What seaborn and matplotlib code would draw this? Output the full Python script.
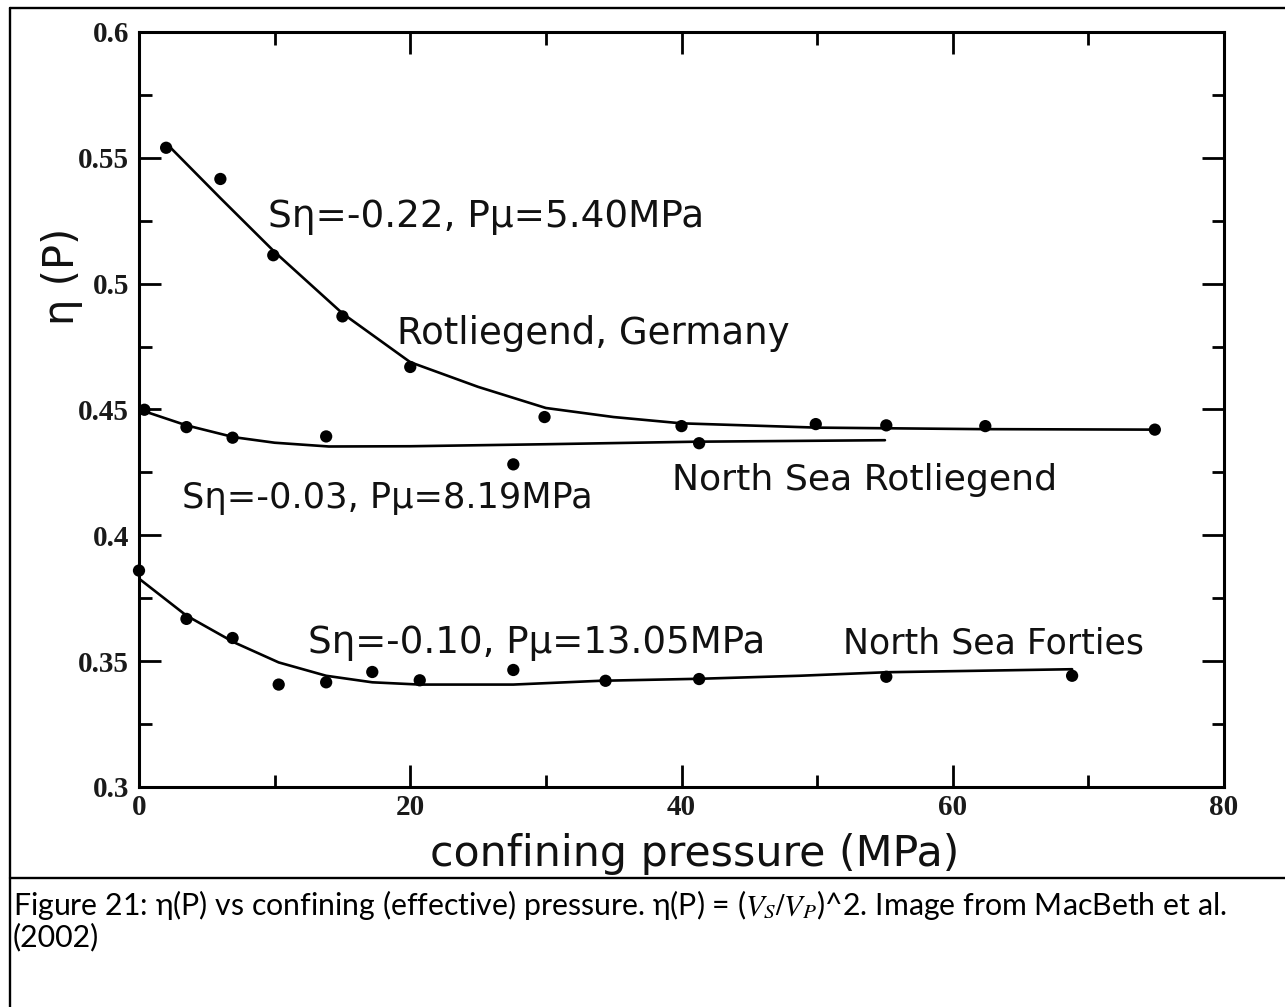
import matplotlib
matplotlib.use("Agg")
import numpy as np
import pandas as pd
import matplotlib.pyplot as plt
import seaborn as sns
from matplotlib.lines import Line2D
from matplotlib.ticker import MultipleLocator, FuncFormatter

# ---------------- data ----------------
germany_p = [2.0, 6.0, 9.9, 15.0, 20.0, 29.9, 40.0, 49.9, 55.1, 62.4, 74.9]
germany_eta = [0.554, 0.5416, 0.5113, 0.487, 0.4669, 0.447, 0.4434, 0.4442, 0.4437, 0.4434, 0.442]
germany_fit_p = [2, 6, 10, 15, 20, 25, 30, 35, 40, 50, 62, 75]
germany_fit_eta = [0.5558, 0.534, 0.5126, 0.4882, 0.4688, 0.459, 0.4506, 0.4470, 0.4445, 0.4428, 0.4422, 0.442]

nsr_p = [0.4, 3.5, 6.9, 13.8, 27.6, 41.3]
nsr_eta = [0.4499, 0.443, 0.4388, 0.4393, 0.4282, 0.4366]
nsr_fit_p = [0, 3.5, 7, 10, 14, 20, 30, 41, 55]
nsr_fit_eta = [0.450, 0.4437, 0.439, 0.4368, 0.4353, 0.4354, 0.4362, 0.4372, 0.4378]

forties_p = [0.0, 3.5, 6.9, 10.3, 13.8, 17.2, 20.7, 27.6, 34.4, 41.3, 55.1, 68.8]
forties_eta = [0.386, 0.3668, 0.3592, 0.3407, 0.3416, 0.3457, 0.3424, 0.3465, 0.3422, 0.3429, 0.3438, 0.3442]
forties_fit_p = [0, 3.5, 7, 10.3, 13.8, 17.2, 20.7, 27.6, 34, 41.3, 48.7, 55.1, 62, 68.8]
forties_fit_eta = [0.3828, 0.3681, 0.3575, 0.3495, 0.3442, 0.3416, 0.3407, 0.3407, 0.3422, 0.343, 0.3442, 0.3456, 0.3462, 0.3468]

series_names = ["Rotliegend, Germany", "North Sea Rotliegend", "North Sea Forties"]
x_ticks = [0, 20, 40, 60, 80]
y_ticks = [0.3, 0.35, 0.4, 0.45, 0.5, 0.55, 0.6]

annot_texts = ["S\u03b7=-0.22, P\u03bc=5.40MPa", "Rotliegend, Germany",
               "S\u03b7=-0.03, P\u03bc=8.19MPa", "North Sea Rotliegend",
               "S\u03b7=-0.10, P\u03bc=13.05MPa", "North Sea Forties"]
x_label = "confining pressure (MPa)"
y_label = "\u03b7 (P)"
caption_1 = "Figure 21: \u03b7(P) vs confining (effective) pressure. \u03b7(P) = ($V_S/V_P$)^2. Image from MacBeth et al."
caption_2 = "(2002)"

# ---------------- tables ----------------
pts = pd.concat([
    pd.DataFrame({"P": germany_p, "eta": germany_eta, "series": series_names[0]}),
    pd.DataFrame({"P": nsr_p, "eta": nsr_eta, "series": series_names[1]}),
    pd.DataFrame({"P": forties_p, "eta": forties_eta, "series": series_names[2]}),
], ignore_index=True)
fits = pd.concat([
    pd.DataFrame({"P": germany_fit_p, "eta": germany_fit_eta, "series": series_names[0]}),
    pd.DataFrame({"P": nsr_fit_p, "eta": nsr_fit_eta, "series": series_names[1]}),
    pd.DataFrame({"P": forties_fit_p, "eta": forties_fit_eta, "series": series_names[2]}),
], ignore_index=True)

# ---------------- figure ----------------
sns.set_theme(style="white")
plt.rcParams["font.family"] = ["DejaVu Sans"]
plt.rcParams["mathtext.fontset"] = "stix"

W, H = 1285, 1007
fig = plt.figure(figsize=(W / 100, H / 100), dpi=100)
fig.patch.set_facecolor("white")

def fx(px):
    return px / W

def fy(py):
    return 1 - py / H

ax_l, ax_r, ax_t, ax_b = 139, 1224, 32, 787
ax = fig.add_axes([fx(ax_l), fy(ax_b), (ax_r - ax_l) / W, (ax_b - ax_t) / H])
ax.set_facecolor("white")

sns.lineplot(data=fits, x="P", y="eta", units="series", estimator=None, sort=False,
             color="black", lw=1.9, legend=False, ax=ax)
sns.scatterplot(data=pts, x="P", y="eta", color="black", s=78, edgecolor="none",
                legend=False, ax=ax, zorder=5, clip_on=False)

ax.set_xlim(0, 80)
ax.set_ylim(0.3, 0.6)
ax.set_xticks(x_ticks)
ax.set_yticks(y_ticks)
ax.xaxis.set_minor_locator(MultipleLocator(10))
ax.yaxis.set_minor_locator(MultipleLocator(0.025))
ax.xaxis.set_major_formatter(FuncFormatter(lambda v, p: f"{v:g}"))
ax.yaxis.set_major_formatter(FuncFormatter(lambda v, p: f"{v:g}"))
ax.set_xlabel("")
ax.set_ylabel("")
for s in ax.spines.values():
    s.set_visible(True)
    s.set_color("black")
    s.set_linewidth(2.2)
ax.tick_params(which="both", direction="in", top=True, right=True, bottom=True, left=True,
               color="black", width=2.0)
ax.tick_params(which="major", length=16)
ax.tick_params(which="minor", length=9)
ax.tick_params(axis="y", which="major", pad=7)
ax.tick_params(axis="x", which="major", pad=5)
for lab in ax.get_xticklabels() + ax.get_yticklabels():
    lab.set_fontfamily("Liberation Serif")
    lab.set_fontweight("bold")
    lab.set_fontsize(21)
    lab.set_color("#1a1a1a")

# annotations (positions in data coords)
annot_x = [9.5, 19.0, 3.17, 39.3, 12.45, 51.9]
annot_y = [0.5224, 0.4759, 0.4107, 0.4182, 0.3534, 0.353]
annot_w = [437, 393, 410, 387, 457, 302]

fig.canvas.draw()
rend = fig.canvas.get_renderer()

def fit_width(t, target):
    w = t.get_window_extent(renderer=rend).width
    t.set_fontsize(t.get_fontsize() * target / w)

for txt, x, y, w in zip(annot_texts, annot_x, annot_y, annot_w):
    t = ax.text(x, y, txt, ha="left", va="baseline", fontsize=24, color="#111111",
                family="DejaVu Sans")
    fit_width(t, w)

xl = fig.text(fx(695), fy(854), x_label, ha="center", va="center", fontsize=30,
              color="#111111", family="DejaVu Sans")
fit_width(xl, 528)
yl = fig.text(fx(62), fy(276), y_label, ha="center", va="center", rotation=90,
              fontsize=30, color="#111111", family="DejaVu Sans")

# caption
c1 = fig.text(fx(13), fy(905), caption_1, ha="left", va="center", fontsize=18,
              color="black", family="Lato")
fit_width(c1, 1215)
fig.text(fx(13), fy(937), caption_2, ha="left", va="center",
         fontsize=c1.get_fontsize(), color="black", family="Lato")

# frame lines around the figure and above the caption
lw_frame = 1.7
fig.add_artist(Line2D([fx(10), fx(10)], [fy(8), 0], transform=fig.transFigure,
                      color="black", lw=lw_frame))
fig.add_artist(Line2D([fx(10), 1], [fy(8), fy(8)], transform=fig.transFigure,
                      color="black", lw=lw_frame))
fig.add_artist(Line2D([fx(10), 1], [fy(878), fy(878)], transform=fig.transFigure,
                      color="black", lw=lw_frame))

fig.savefig("out.png", dpi=100, facecolor="white")
